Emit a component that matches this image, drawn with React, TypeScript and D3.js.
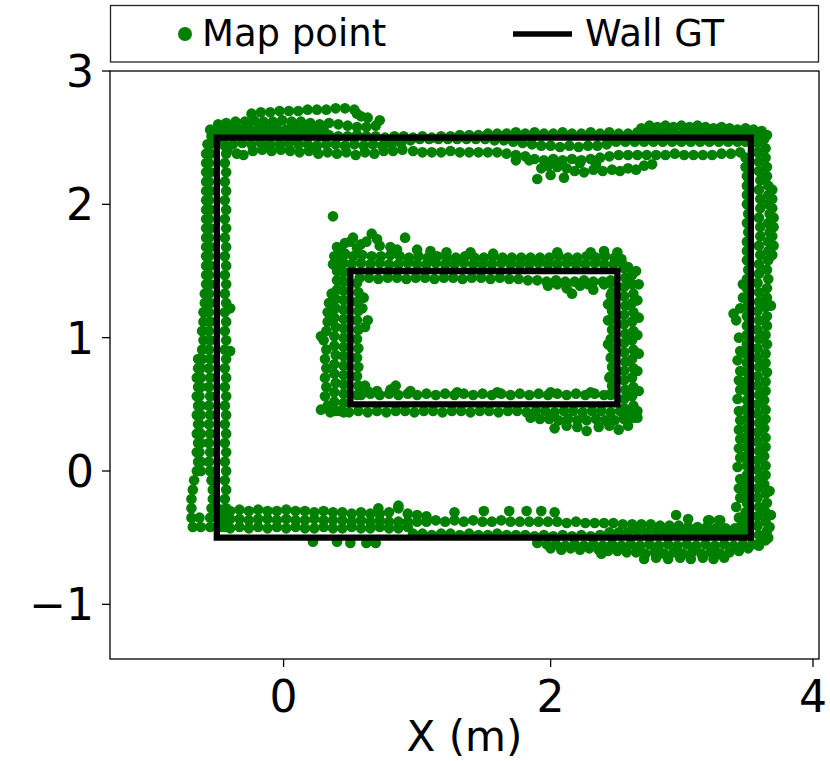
import React from 'react';
import * as d3 from 'd3';

type P = [number, number];

// ---- Map points, grouped by wall band ----
const outerTopUpper1: P[] = [[-0.24,2.68],[-0.17,2.69],[-0.10,2.69],[-0.03,2.70],[0.04,2.70],[0.11,2.70],[0.18,2.71],[0.25,2.71],[0.32,2.71],[0.39,2.72],[0.46,2.72],[0.53,2.71],[0.55,2.68],[0.58,2.66],[0.63,2.65],[0.72,2.63]];
const outerTopUpper2: P[] = [[-0.55,2.56],[-0.49,2.60],[-0.43,2.61],[-0.36,2.62],[-0.29,2.62],[-0.22,2.63],[-0.15,2.62],[-0.08,2.62],[-0.01,2.63],[0.06,2.62],[0.13,2.62],[0.20,2.61],[0.27,2.60],[0.34,2.61],[0.41,2.60],[0.48,2.59],[0.55,2.58],[0.62,2.58],[0.69,2.59],
  [-0.47,2.56],[-0.40,2.57],[-0.33,2.56],[-0.26,2.57],[-0.19,2.57],[-0.12,2.56],[-0.05,2.57],[0.02,2.56],[0.09,2.57],[0.16,2.56],[0.23,2.56],[0.30,2.56]];
const outerTopWall: P[] = [[-0.50,2.53],[-0.43,2.52],[-0.36,2.53],[-0.29,2.52],[-0.22,2.52],[-0.15,2.53],[-0.08,2.52],[-0.01,2.52],[0.06,2.51],[0.13,2.52],[0.20,2.52],[0.27,2.51],[0.34,2.52],[0.41,2.51],[0.48,2.51],[0.55,2.52],[0.62,2.51],[0.69,2.51],[0.76,2.50],[0.83,2.51],[0.90,2.51],[0.97,2.50],[1.04,2.51],[1.11,2.50],[1.18,2.51],[1.25,2.51],[1.32,2.52],[1.39,2.52],[1.46,2.52],[1.53,2.53],[1.60,2.53],[1.67,2.53],[1.74,2.54],[1.81,2.53],[1.88,2.54],[1.95,2.53],[2.02,2.53],[2.09,2.54],[2.16,2.53],[2.23,2.53],[2.30,2.54],[2.37,2.53],[2.44,2.54],[2.51,2.53],[2.58,2.53],[2.65,2.54],[2.72,2.53],[2.79,2.54],[2.86,2.54],[2.93,2.53],[3.00,2.54],[3.07,2.53],[3.14,2.54],[3.21,2.53],[3.28,2.54],[3.35,2.53],[3.42,2.54],[3.49,2.53]];
const outerTopRightUpper: P[] = [[2.68,2.57],[2.74,2.59],[2.80,2.58],[2.86,2.59],[2.92,2.58],[2.98,2.59],[3.04,2.58],[3.10,2.59],[3.16,2.58],[3.22,2.57],[3.28,2.58],[3.34,2.57],[3.40,2.56],[3.46,2.57],[3.52,2.56],[3.58,2.55],[3.62,2.52]];
const outerTopBelow: P[] = [[-0.45,2.46],[-0.38,2.45],[-0.31,2.46],[-0.24,2.45],[-0.17,2.46],[-0.10,2.45],[-0.03,2.45],[0.04,2.46],[0.11,2.45],[0.18,2.45],[0.25,2.44],[0.32,2.45],[0.39,2.45],[0.46,2.44],[0.53,2.45],[0.60,2.44],[0.67,2.45],[0.74,2.44],[0.81,2.45],[0.88,2.46],[0.95,2.48],[1.02,2.49],[1.09,2.49],[1.16,2.49],[1.23,2.49],[1.30,2.49],[1.37,2.49],[1.44,2.49],[1.51,2.49],[1.58,2.48],[1.65,2.48],[1.72,2.47],[1.79,2.46],[1.86,2.45],[1.93,2.44],[2.00,2.44],[2.07,2.43],[2.14,2.44],[2.21,2.43],[2.28,2.44],[2.35,2.44],[2.42,2.45],[2.49,2.47],[2.56,2.47],[2.63,2.47],[2.70,2.47],[2.77,2.47],[2.84,2.47],[2.91,2.47],[2.98,2.47],[3.05,2.47],[3.12,2.47],[3.19,2.47],[3.26,2.47],[3.33,2.47],[3.40,2.47],[3.46,2.47]];
const outerTopLowerLeft: P[] = [[-0.42,2.40],[-0.35,2.38],[-0.30,2.37],[-0.23,2.40],[-0.16,2.41],[-0.09,2.40],[-0.02,2.41],[0.05,2.40],[0.12,2.39],[0.19,2.40],[0.26,2.38],[0.33,2.39],[0.40,2.38],[0.47,2.39],[0.54,2.37],[0.61,2.39],[0.68,2.38],[0.75,2.40],[0.82,2.40],[0.89,2.41]];
const outerTopLowerRight: P[] = [[0.97,2.40],[1.04,2.39],[1.11,2.39],[1.18,2.39],[1.25,2.40],[1.32,2.39],[1.39,2.39],[1.46,2.39],[1.53,2.39],[1.60,2.39],[1.67,2.38],[1.74,2.37],[1.81,2.36],[1.88,2.34],[1.95,2.33],[2.02,2.34],[2.09,2.33],[2.16,2.34],[2.23,2.33],[2.30,2.34],[2.37,2.35],[2.44,2.36],[2.51,2.37],[2.58,2.37],[2.65,2.37],[2.72,2.37],[2.79,2.37],[2.86,2.37],[2.93,2.38],[3.00,2.37],[3.07,2.37],[3.14,2.37],[3.21,2.37],[3.28,2.38],[3.35,2.38],[3.42,2.39]];
const outerTopDip: P[] = [[1.74,2.33],[1.84,2.33],[1.90,2.19],[1.93,2.27],[1.98,2.29],[2.00,2.22],[2.05,2.28],[2.10,2.20],[2.12,2.27],[2.18,2.25],[2.22,2.31],[2.25,2.24],[2.32,2.26],[2.34,2.30],[2.39,2.25],[2.46,2.26],[2.52,2.25],[2.58,2.27],[2.64,2.26],[2.70,2.29],[2.76,2.30]];

const outerRightIn1: P[] = [[3.47,-0.45],[3.47,-0.38],[3.46,-0.31],[3.47,-0.24],[3.47,-0.17],[3.46,-0.10],[3.47,-0.03],[3.47,0.04],[3.46,0.11],[3.47,0.18],[3.46,0.25],[3.47,0.32],[3.47,0.39],[3.46,0.46],[3.47,0.53],[3.47,0.60],[3.46,0.67],[3.47,0.74],[3.47,0.81],[3.46,0.88],[3.47,0.95],[3.47,1.02],[3.47,1.09],[3.47,1.16],[3.47,1.23],[3.47,1.30],[3.47,1.37],[3.47,1.44],[3.48,1.51],[3.47,1.58],[3.47,1.65],[3.47,1.72],[3.48,1.79],[3.47,1.86],[3.48,1.93],[3.47,2.00],[3.47,2.07],[3.47,2.14],[3.47,2.21],[3.46,2.28],[3.46,2.35]];
const outerRightIn2: P[] = [[3.42,-0.42],[3.41,-0.35],[3.39,-0.27],[3.42,-0.20],[3.41,-0.13],[3.42,-0.06],[3.40,0.03],[3.42,0.10],[3.41,0.17],[3.42,0.24],[3.41,0.31],[3.42,0.38],[3.41,0.45],[3.40,0.54],[3.42,0.61],[3.41,0.68],[3.42,0.75],[3.40,0.83],[3.42,0.90],[3.41,1.00],[3.39,1.13],[3.37,1.18],[3.42,1.22],[3.44,1.30],[3.44,1.40],[3.19,-0.37],[3.27,-0.37]];
const outerRightOut1: P[] = [[3.55,-0.55],[3.56,-0.48],[3.55,-0.41],[3.55,-0.34],[3.56,-0.27],[3.55,-0.20],[3.55,-0.13],[3.56,-0.06],[3.55,0.01],[3.55,0.08],[3.56,0.15],[3.55,0.22],[3.55,0.29],[3.56,0.36],[3.55,0.43],[3.55,0.50],[3.56,0.57],[3.55,0.64],[3.55,0.71],[3.56,0.78],[3.55,0.85],[3.55,0.92],[3.56,0.99],[3.55,1.06],[3.56,1.13],[3.55,1.20],[3.56,1.27],[3.56,1.34],[3.55,1.41],[3.56,1.48],[3.56,1.55],[3.57,1.62],[3.56,1.69],[3.57,1.76],[3.57,1.83],[3.56,1.90],[3.57,1.97],[3.57,2.04],[3.56,2.11],[3.57,2.18],[3.56,2.25],[3.56,2.32],[3.55,2.39],[3.55,2.46],[3.54,2.53]];
const outerRightOut2: P[] = [[3.61,-0.52],[3.62,-0.45],[3.61,-0.38],[3.61,-0.31],[3.62,-0.24],[3.61,-0.17],[3.60,-0.10],[3.61,-0.03],[3.61,0.04],[3.60,0.11],[3.61,0.18],[3.61,0.25],[3.60,0.32],[3.61,0.39],[3.61,0.46],[3.60,0.53],[3.61,0.60],[3.61,0.67],[3.62,0.74],[3.61,0.81],[3.61,0.88],[3.62,0.95],[3.61,1.02],[3.62,1.09],[3.62,1.16],[3.61,1.23],[3.62,1.30],[3.62,1.37],[3.63,1.44],[3.62,1.51],[3.63,1.58],[3.63,1.65],[3.63,1.72],[3.64,1.79],[3.63,1.86],[3.64,1.93],[3.63,2.00],[3.63,2.07],[3.63,2.14],[3.62,2.21],[3.62,2.28],[3.61,2.35],[3.61,2.42],[3.60,2.49]];
const outerRightOut3: P[] = [[3.66,1.62],[3.67,1.69],[3.66,1.76],[3.67,1.83],[3.67,1.90],[3.66,1.97],[3.66,2.04],[3.66,2.11],[3.65,1.24],[3.64,-0.15],[3.65,-0.33],[3.64,-0.42],[3.63,-0.50]];

const outerLeftIn: P[] = [[-0.44,-0.42],[-0.44,-0.35],[-0.43,-0.28],[-0.44,-0.21],[-0.43,-0.14],[-0.44,-0.07],[-0.43,0.00],[-0.44,0.07],[-0.43,0.14],[-0.44,0.21],[-0.43,0.28],[-0.44,0.35],[-0.43,0.42],[-0.44,0.49],[-0.43,0.56],[-0.44,0.63],[-0.43,0.70],[-0.44,0.77],[-0.43,0.84],[-0.44,0.91],[-0.43,0.98],[-0.44,1.05],[-0.43,1.12],[-0.44,1.19],[-0.43,1.26],[-0.44,1.33],[-0.43,1.40],[-0.44,1.47],[-0.43,1.54],[-0.44,1.61],[-0.43,1.68],[-0.44,1.75],[-0.43,1.82],[-0.44,1.89],[-0.43,1.96],[-0.44,2.03],[-0.43,2.10],[-0.44,2.17],[-0.43,2.24],[-0.44,2.31],[-0.43,2.38],[-0.44,2.44],[-0.40,1.22],[-0.40,0.90]];
const outerLeftOut1: P[] = [[-0.55,-0.42],[-0.55,-0.35],[-0.54,-0.28],[-0.53,-0.21],[-0.53,-0.14],[-0.54,-0.07],[-0.55,0.00],[-0.56,0.07],[-0.55,0.14],[-0.56,0.21],[-0.55,0.28],[-0.56,0.35],[-0.55,0.42],[-0.56,0.49],[-0.55,0.56],[-0.56,0.63],[-0.55,0.70],[-0.56,0.77],[-0.55,0.84],[-0.56,0.91],[-0.55,0.98],[-0.56,1.05],[-0.55,1.12],[-0.56,1.19],[-0.55,1.26],[-0.56,1.33],[-0.55,1.40],[-0.56,1.47],[-0.55,1.54],[-0.56,1.61],[-0.55,1.68],[-0.56,1.75],[-0.55,1.82],[-0.56,1.89],[-0.55,1.96],[-0.56,2.03],[-0.55,2.10],[-0.56,2.17],[-0.55,2.24],[-0.56,2.31],[-0.55,2.38],[-0.55,2.45],[-0.54,2.51]];
const outerLeftOut2: P[] = [[-0.62,-0.42],[-0.63,-0.35],[-0.62,0.00],[-0.62,0.07],[-0.63,0.14],[-0.62,0.21],[-0.62,0.28],[-0.63,0.35],[-0.62,0.42],[-0.62,0.49],[-0.63,0.56],[-0.62,0.63],[-0.62,0.70],[-0.62,0.77],[-0.61,0.84],[-0.61,0.91],[-0.60,0.98],[-0.61,1.05],[-0.60,1.12],[-0.60,1.19],[-0.59,1.26],[-0.59,1.33],[-0.58,1.40],[-0.58,1.47],[-0.58,1.54],[-0.58,1.61],[-0.58,1.68],[-0.58,1.75],[-0.58,1.82],[-0.58,1.89],[-0.58,1.96],[-0.58,2.03],[-0.58,2.10],[-0.58,2.17],[-0.58,2.24],[-0.58,2.31],[-0.58,2.38],[-0.57,2.45]];
const outerLeftOut3: P[] = [[-0.68,-0.42],[-0.69,-0.35],[-0.69,-0.28],[-0.69,-0.21],[-0.68,-0.14],[-0.67,-0.07],[-0.65,0.00],[-0.64,0.07],[-0.65,0.14],[-0.64,0.21],[-0.65,0.28],[-0.64,0.35],[-0.65,0.42],[-0.64,0.49],[-0.65,0.56],[-0.64,0.63],[-0.65,0.70],[-0.64,0.77],[-0.64,0.84]];

const outerBottomUpper: P[] = [[-0.47,-0.29],[-0.40,-0.30],[-0.33,-0.29],[-0.26,-0.30],[-0.19,-0.29],[-0.12,-0.30],[-0.05,-0.30],[0.02,-0.29],[0.09,-0.30],[0.16,-0.30],[0.23,-0.31],[0.30,-0.30],[0.37,-0.31],[0.44,-0.31],[0.51,-0.32],[0.58,-0.31],[0.65,-0.32],[0.72,-0.32],[0.79,-0.31],[0.86,-0.28],[0.93,-0.32],[1.00,-0.33],[1.07,-0.34]];
const outerBottomMid: P[] = [[-0.47,-0.36],[-0.40,-0.36],[-0.33,-0.36],[-0.26,-0.37],[-0.19,-0.36],[-0.12,-0.36],[-0.05,-0.37],[0.02,-0.36],[0.09,-0.37],[0.16,-0.37],[0.23,-0.36],[0.30,-0.37],[0.37,-0.37],[0.44,-0.37],[0.51,-0.38],[0.58,-0.37],[0.65,-0.38],[0.72,-0.37],[0.79,-0.38],[0.86,-0.38],[0.93,-0.38],[1.00,-0.38],[1.07,-0.38],[1.14,-0.37],[1.21,-0.38],[1.28,-0.37],[1.35,-0.38],[1.42,-0.37],[1.49,-0.38],[1.56,-0.38],[1.63,-0.37],[1.70,-0.38],[1.77,-0.38],[1.84,-0.38],[1.91,-0.38],[1.98,-0.38],[2.05,-0.38],[2.12,-0.39],[2.19,-0.38],[2.26,-0.39],[2.33,-0.39],[2.40,-0.39],[2.47,-0.39],[2.54,-0.40],[2.61,-0.40],[2.68,-0.40],[2.75,-0.40],[2.82,-0.41],[2.89,-0.41],[2.96,-0.41],[3.03,-0.42],[3.10,-0.42],[3.17,-0.42],[3.24,-0.43],[3.31,-0.43],[3.38,-0.43],[3.45,-0.44]];
const outerBottomLowLeft: P[] = [[-0.47,-0.42],[-0.40,-0.43],[-0.33,-0.42],[-0.26,-0.43],[-0.19,-0.42],[-0.12,-0.43],[-0.05,-0.42],[0.02,-0.43],[0.09,-0.42],[0.16,-0.43],[0.23,-0.43],[0.30,-0.42],[0.37,-0.43],[0.44,-0.43],[0.51,-0.42],[0.58,-0.43],[0.65,-0.43],[0.72,-0.42],[0.79,-0.43],[0.86,-0.43],[0.93,-0.42]];
const outerBottomWall: P[] = [[0.97,-0.47],[1.04,-0.47],[1.11,-0.48],[1.18,-0.47],[1.25,-0.47],[1.32,-0.48],[1.39,-0.47],[1.46,-0.48],[1.53,-0.48],[1.60,-0.47],[1.67,-0.48],[1.74,-0.48],[1.81,-0.48],[1.88,-0.49],[1.95,-0.48],[2.02,-0.49],[2.09,-0.48],[2.16,-0.49],[2.23,-0.48],[2.30,-0.49],[2.37,-0.48],[2.44,-0.46],[2.51,-0.46],[2.58,-0.46],[2.65,-0.45],[2.72,-0.46],[2.79,-0.46],[2.86,-0.46],[2.93,-0.46],[3.00,-0.47],[3.07,-0.47],[3.14,-0.47],[3.21,-0.47],[3.28,-0.47],[3.35,-0.47],[3.42,-0.47]];
const outerBottomBelow1: P[] = [[1.90,-0.54],[1.97,-0.55],[2.04,-0.55],[2.11,-0.56],[2.18,-0.55],[2.25,-0.56],[2.32,-0.55],[2.39,-0.56],[2.46,-0.55],[2.53,-0.56],[2.60,-0.55],[2.67,-0.56],[2.74,-0.55],[2.81,-0.56],[2.88,-0.55],[2.95,-0.56],[3.02,-0.55],[3.09,-0.56],[3.16,-0.55],[3.23,-0.56],[3.30,-0.55],[3.37,-0.56],[3.44,-0.55],[3.51,-0.55]];
const outerBottomBelow2: P[] = [[2.00,-0.58],[2.08,-0.59],[2.15,-0.58],[2.22,-0.59],[2.29,-0.58],[2.36,-0.59],[2.43,-0.60],[2.50,-0.60],[2.57,-0.61],[2.64,-0.61],[2.71,-0.62],[2.78,-0.61],[2.85,-0.62],[2.92,-0.61],[2.99,-0.62],[3.06,-0.61],[3.13,-0.62],[3.20,-0.61],[3.27,-0.62],[3.34,-0.61],[3.41,-0.60],[3.48,-0.58],[3.56,-0.56],
  [2.38,-0.62],[2.70,-0.66],[2.79,-0.65],[2.88,-0.66],[2.97,-0.65],[3.05,-0.66],[3.14,-0.65],[3.22,-0.66],[3.30,-0.65]];
const outerBottomScatter: P[] = [[0.71,-0.28],[0.86,-0.26],[1.28,-0.31],[1.50,-0.30],[1.69,-0.30],[1.82,-0.30],[1.93,-0.30],[2.03,-0.31],[2.94,-0.33],[3.03,-0.36],[3.18,-0.37],[3.26,-0.37],[0.22,-0.53],[0.40,-0.53],[0.50,-0.54],[0.62,-0.54],[0.69,-0.54]];

const innerTopUpper: P[] = [[0.37,1.55],[0.44,1.56],[0.51,1.55],[0.58,1.56],[0.65,1.55],[0.72,1.56],[0.79,1.55],[0.86,1.55],[0.93,1.56],[1.00,1.55],[1.07,1.55],[1.14,1.56],[1.21,1.55],[1.28,1.55],[1.35,1.56],[1.42,1.55],[1.49,1.55],[1.56,1.55],[1.63,1.56],[1.70,1.55],[1.77,1.55],[1.84,1.55],[1.91,1.56],[1.98,1.55],[2.05,1.55],[2.12,1.56],[2.19,1.55],[2.26,1.55],[2.33,1.56],[2.40,1.55],[2.47,1.55],[2.54,1.55],[2.58,1.53],
  [0.38,1.61],[0.45,1.62],[0.52,1.61],[0.59,1.62],[0.66,1.61],[0.73,1.61],[0.80,1.62],[0.87,1.61],[0.94,1.60],[1.01,1.61],[1.08,1.60],[1.15,1.61],[1.22,1.60],[1.29,1.60],[1.36,1.61],[1.43,1.60],[1.50,1.60],[1.57,1.61],[1.64,1.60],[1.71,1.60],[1.78,1.60],[1.85,1.60],[1.92,1.60],[1.99,1.60],[2.06,1.61],[2.13,1.60],[2.20,1.60],[2.27,1.61],[2.34,1.60],[2.41,1.61],[2.48,1.60],[2.53,1.59]];
const innerTopBumps: P[] = [[0.40,1.68],[0.43,1.66],[0.46,1.71],[0.50,1.72],[0.52,1.75],[0.55,1.67],[0.58,1.70],[0.62,1.72],[0.66,1.78],[0.70,1.74],[0.72,1.69],[0.80,1.68],[0.85,1.66],[0.91,1.75],[1.00,1.66],[1.10,1.65],[1.22,1.64],[1.40,1.64],[1.57,1.63],[2.05,1.64],[2.30,1.64],[2.40,1.65],[2.50,1.64],[0.37,1.91]];
const innerTopLower: P[] = [[0.57,1.45],[0.64,1.45],[0.71,1.44],[0.78,1.45],[0.85,1.45],[0.92,1.44],[0.99,1.45],[1.06,1.45],[1.13,1.44],[1.20,1.45],[1.27,1.45],[1.34,1.44],[1.41,1.45],[1.48,1.45],[1.55,1.44],[1.62,1.45],[1.69,1.44],[1.76,1.44],[1.83,1.43],[1.90,1.43],[1.97,1.42],[2.04,1.43],[2.11,1.42],[2.18,1.42],[2.25,1.43],[2.32,1.42],[2.39,1.42],[2.45,1.43],
  [1.98,1.39],[2.05,1.40],[2.12,1.37],[2.16,1.33],[2.22,1.39],[2.28,1.40],[2.32,1.36],[2.40,1.40],[2.45,1.32]];
const innerLeftOut: P[] = [[0.33,0.49],[0.31,0.56],[0.32,0.63],[0.31,0.70],[0.32,0.77],[0.31,0.84],[0.32,0.91],[0.30,0.98],[0.28,1.01],[0.32,1.05],[0.33,1.12],[0.33,1.19],[0.34,1.26],[0.36,1.33],
  [0.39,0.45],[0.38,0.52],[0.38,0.59],[0.39,0.66],[0.38,0.73],[0.38,0.80],[0.39,0.87],[0.38,0.94],[0.38,1.01],[0.39,1.08],[0.38,1.15],[0.39,1.22],[0.39,1.29],[0.40,1.36],[0.40,1.43],[0.40,1.50],[0.41,1.57],[0.41,1.63],
  [0.45,0.44],[0.45,0.51],[0.45,0.58],[0.45,0.65],[0.45,0.72],[0.45,0.79],[0.45,0.86],[0.45,0.93],[0.45,1.00],[0.45,1.07],[0.45,1.14],[0.45,1.21],[0.45,1.28],[0.45,1.35],[0.45,1.42],[0.45,1.49],[0.45,1.56],[0.46,1.63]];
const innerLeftIn: P[] = [[0.55,0.57],[0.56,0.64],[0.55,0.71],[0.56,0.78],[0.55,0.85],[0.56,0.92],[0.55,0.99],[0.56,1.06],[0.55,1.13],[0.56,1.20],[0.55,1.27],[0.56,1.34],[0.55,1.41],[0.63,1.13],[0.61,1.08],[0.59,1.22],[0.61,0.64],[0.84,0.64],[0.60,1.30]];
const innerRightIn: P[] = [[2.45,0.57],[2.46,0.64],[2.45,0.71],[2.46,0.78],[2.45,0.85],[2.46,0.92],[2.45,0.99],[2.46,1.06],[2.45,1.13],[2.46,1.20],[2.45,1.27],[2.46,1.34],[2.45,1.41],[2.43,1.13],[2.43,0.95],[2.43,1.25],[2.44,0.70]];
const innerRightOut: P[] = [[2.55,0.40],[2.55,0.47],[2.55,0.54],[2.56,0.61],[2.55,0.68],[2.55,0.75],[2.56,0.82],[2.55,0.89],[2.55,0.96],[2.56,1.03],[2.55,1.10],[2.55,1.17],[2.56,1.24],[2.55,1.31],[2.55,1.38],[2.56,1.45],[2.55,1.52],
  [2.61,0.42],[2.62,0.49],[2.61,0.56],[2.62,0.63],[2.61,0.70],[2.62,0.77],[2.61,0.84],[2.62,0.91],[2.61,0.98],[2.62,1.05],[2.61,1.12],[2.62,1.19],[2.61,1.26],[2.62,1.33],[2.61,1.40],[2.61,1.47],
  [2.65,0.45],[2.66,0.60],[2.65,0.75],[2.66,0.88],[2.65,1.02],[2.66,1.15],[2.65,1.28],[2.66,1.40],[2.64,1.50]];
const innerBottomUpper: P[] = [[0.58,0.57],[0.65,0.58],[0.72,0.57],[0.79,0.58],[0.86,0.57],[0.93,0.58],[1.00,0.57],[1.07,0.58],[1.14,0.57],[1.21,0.58],[1.28,0.57],[1.35,0.58],[1.42,0.57],[1.49,0.58],[1.56,0.57],[1.63,0.58],[1.70,0.57],[1.77,0.58],[1.84,0.57],[1.91,0.58],[1.98,0.57],[2.05,0.58],[2.12,0.57],[2.19,0.58],[2.26,0.57],[2.33,0.58],[2.40,0.57],[2.45,0.58],
  [0.63,0.60],[0.70,0.60],[0.80,0.61],[0.95,0.60],[1.30,0.59],[1.60,0.59],[2.00,0.59],[2.30,0.59]];
const innerBottomLower: P[] = [[0.28,0.46],[0.35,0.44],[0.42,0.45],[0.49,0.44],[0.56,0.45],[0.63,0.44],[0.70,0.45],[0.77,0.44],[0.84,0.45],[0.91,0.45],[0.98,0.44],[1.05,0.45],[1.12,0.45],[1.19,0.44],[1.26,0.45],[1.33,0.45],[1.40,0.44],[1.47,0.45],[1.54,0.45],[1.61,0.44],[1.68,0.45],[1.75,0.45],[1.82,0.44],[1.89,0.45],[1.96,0.45],[2.03,0.44],[2.10,0.45],[2.17,0.45],[2.24,0.44],[2.31,0.45],[2.38,0.45],[2.45,0.44],[2.52,0.45],[2.59,0.45],
  [1.85,0.40],[1.92,0.39],[1.99,0.39],[2.06,0.38],[2.13,0.39],[2.20,0.38],[2.27,0.38],[2.34,0.39],[2.41,0.38],[2.48,0.38],[2.55,0.39],[2.62,0.40],
  [2.03,0.32],[2.12,0.34],[2.20,0.33],[2.27,0.30],[2.36,0.33],[2.44,0.34],[2.51,0.31],[2.58,0.34],[2.65,0.40]];

const mapPointGroups: P[][] = [
  outerTopUpper1, outerTopUpper2, outerTopWall, outerTopRightUpper, outerTopBelow, outerTopLowerLeft, outerTopLowerRight, outerTopDip,
  outerRightIn1, outerRightIn2, outerRightOut1, outerRightOut2, outerRightOut3,
  outerLeftIn, outerLeftOut1, outerLeftOut2, outerLeftOut3,
  outerBottomUpper, outerBottomMid, outerBottomLowLeft, outerBottomWall, outerBottomBelow1, outerBottomBelow2, outerBottomScatter,
  innerTopUpper, innerTopBumps, innerTopLower, innerLeftOut, innerLeftIn, innerRightIn, innerRightOut, innerBottomUpper, innerBottomLower,
];

// ---- Wall ground truth ----
const wallOuter: P[] = [[-0.5, -0.5], [3.5, -0.5], [3.5, 2.5], [-0.5, 2.5]];
const wallInner: P[] = [[0.5, 0.5], [2.5, 0.5], [2.5, 1.5], [0.5, 1.5]];

// ---- Axes ----
const xTicks = [0, 2, 4];
const yTicks = [-1, 0, 1, 2, 3];
const xDomain: [number, number] = [-1.30, 4.01];
const yDomain: [number, number] = [-1.41, 3.0];
const xLabel = 'X (m)';
const legendLabels = ['Map point', 'Wall GT'];

const FONT = 'DejaVu Sans';
const fmt = (t: number) => (t < 0 ? '\u2212' + Math.abs(t) : String(t));

export default function App() {
  const W = 830, H = 761;
  const L = 110, R = 819, T = 71, B = 659;
  const x = d3.scaleLinear().domain(xDomain).range([L, R]);
  const y = d3.scaleLinear().domain(yDomain).range([B, T]);
  const line = d3.line<P>().x(d => x(d[0])).y(d => y(d[1])).curve(d3.curveLinearClosed);
  const pts = mapPointGroups.flat();
  const tickX = (t: number) => Math.min(x(t), R - 6);

  return (
    <svg width={W} height={H} viewBox={`0 0 ${W} ${H}`}
      style={{ position: 'absolute', left: 0, top: 0, display: 'block' }} fontFamily={FONT}>
      <rect x={0} y={0} width={W} height={H} fill="#fff" />
      <defs>
        <clipPath id="plotClip"><rect x={L} y={T} width={R - L} height={B - T} /></clipPath>
      </defs>
      <g clipPath="url(#plotClip)">
        {pts.map((p, i) => (
          <circle key={i} cx={x(p[0])} cy={y(p[1])} r={5.3} fill="green" />
        ))}
        {[wallOuter, wallInner].map((w, i) => (
          <path key={i} d={line(w) || ''} fill="none" stroke="#000" strokeWidth={6.3} strokeLinejoin="miter" />
        ))}
      </g>
      <rect x={L} y={T} width={R - L} height={B - T} fill="none" stroke="#000" strokeWidth={1.3} />
      {xTicks.map(t => (
        <g key={'x' + t}>
          <line x1={tickX(t)} x2={tickX(t)} y1={B} y2={B + 8} stroke="#000" strokeWidth={1.3} />
          <text x={tickX(t)} y={712} textAnchor="middle" fontSize={44} fill="#000">{fmt(t)}</text>
        </g>
      ))}
      {yTicks.map(t => (
        <g key={'y' + t}>
          <line x1={L - 8} x2={L} y1={y(t)} y2={y(t)} stroke="#000" strokeWidth={1.3} />
          <text x={94} y={y(t) + 16} textAnchor="end" fontSize={44} fill="#000">{fmt(t)}</text>
        </g>
      ))}
      <text x={(L + R) / 2} y={751} textAnchor="middle" fontSize={42} fill="#000">{xLabel}</text>

      <g>
        <rect x={110.5} y={5.5} width={708} height={56.5} fill="#fff" stroke="#222" strokeWidth={1.3} />
        <circle cx={185} cy={34} r={7} fill="green" />
        <text x={202} y={46} fontSize={37} fill="#000">{legendLabels[0]}</text>
        <line x1={513} x2={572} y1={34} y2={34} stroke="#000" strokeWidth={5.7} />
        <text x={585} y={46} fontSize={37} fill="#000">{legendLabels[1]}</text>
      </g>
    </svg>
  );
}
